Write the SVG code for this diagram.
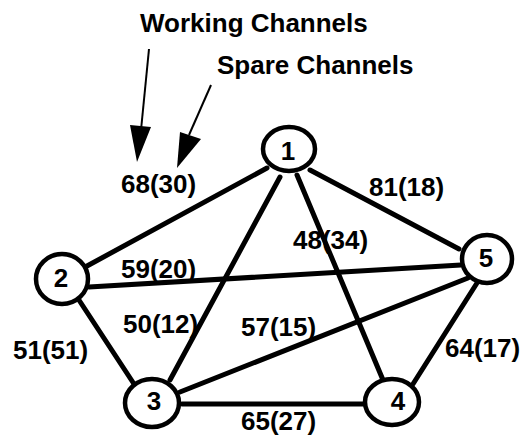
<svg xmlns="http://www.w3.org/2000/svg" width="525" height="436" viewBox="0 0 525 436">
<style>
text{font-family:"Liberation Sans",Arial,sans-serif;font-weight:bold;font-size:26px;fill:#000}
.n text{text-anchor:middle}
.e line{stroke:#000;stroke-width:5;stroke-linecap:round}
.n ellipse{fill:#fff;stroke:#000;stroke-width:4.5}
.ptr line{stroke:#000;stroke-width:2}
</style>
<rect width="525" height="436" fill="#fff"/>
<g id="connectors" class="e">
<line x1="267" y1="168" x2="87" y2="266"/>
<line x1="280" y1="177" x2="170" y2="380"/>
<line x1="297" y1="175" x2="383" y2="380"/>
<line x1="310" y1="170" x2="459" y2="249"/>
<line x1="89" y1="287" x2="461" y2="265"/>
<line x1="77" y1="297" x2="134" y2="384"/>
<line x1="180" y1="392" x2="468" y2="278"/>
<line x1="182" y1="404" x2="365" y2="404"/>
<line x1="413" y1="384" x2="477" y2="283"/>
</g>
<g id="labels">
<text x="121" y="193">68(30)</text>
<text x="369" y="196">81(18)</text>
<text x="293" y="249">48(34)</text>
<text x="121" y="278">59(20)</text>
<text x="123" y="333">50(12)</text>
<text x="241" y="336">57(15)</text>
<text x="13" y="359">51(51)</text>
<text x="445" y="357">64(17)</text>
<text x="241" y="430">65(27)</text>
</g>
<g id="pointers" class="ptr">
<text x="140" y="32">Working Channels</text>
<text x="217" y="74">Spare Channels</text>
<line x1="149" y1="49" x2="141" y2="130"/>
<polygon points="137,162 130,125 151,127"/>
<line x1="211" y1="85" x2="189" y2="135"/>
<polygon points="177,168 180,132 201,139"/>
</g>
<g id="node1" class="n"><ellipse cx="289" cy="149" rx="26" ry="22"/><text x="288" y="160">1</text></g>
<g id="node2" class="n"><ellipse cx="62" cy="279" rx="26" ry="25"/><text x="61" y="287">2</text></g>
<g id="node3" class="n"><ellipse cx="152" cy="403" rx="27" ry="24"/><text x="154" y="410">3</text></g>
<g id="node4" class="n"><ellipse cx="392" cy="402" rx="27" ry="23"/><text x="398" y="410">4</text></g>
<g id="node5" class="n"><ellipse cx="487" cy="259" rx="25" ry="24"/><text x="486" y="267">5</text></g>
</svg>
